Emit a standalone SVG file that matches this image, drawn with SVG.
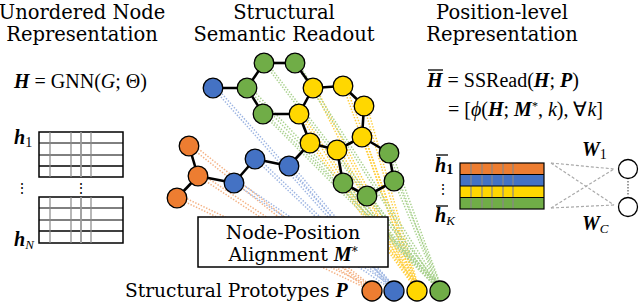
<svg xmlns="http://www.w3.org/2000/svg" width="640" height="303" viewBox="0 0 640 303">
<style>
text{font-family:"Liberation Serif",serif;fill:#000}
.t{font-size:19.5px;text-anchor:middle;font-family:"DejaVu Serif",serif}
.s{font-family:"DejaVu Serif",serif}
.m{font-size:20px}
.bi{font-weight:bold;font-style:italic;font-family:"Liberation Serif",serif}
.it{font-style:italic}
.e{stroke:#000;stroke-width:2.6}
.n{stroke:#000;stroke-width:1.3}
.o{fill:#ED7D31}.b{fill:#4472C4}.y{fill:#FFD700}.g{fill:#70AD47}
.dl{fill:none;stroke-width:1.5;stroke-dasharray:1.4 1.6}
.do{stroke:#F4B183}.db{stroke:#9DB5E2}.dy{stroke:#FFCF40}.dg{stroke:#A9D18E}
.grid{stroke:#000;stroke-width:1}
.gr{stroke:#999;stroke-width:1.8}
.cg{stroke:#888;stroke-width:1.2}
.dash{stroke:#aaa;stroke-width:1.2;stroke-dasharray:3 2;fill:none}
</style>

<g id="titles">
<text class="t" x="82" y="19">Unordered Node</text>
<text class="t" x="82" y="41">Representation</text>
<text class="t" x="284" y="19">Structural</text>
<text class="t" x="284" y="41">Semantic Readout</text>
<text class="t" x="502" y="19">Position-level</text>
<text class="t" x="502" y="41">Representation</text>
</g>

<g id="formula-left">
<text class="m" x="14" y="88"><tspan class="bi">H</tspan> = GNN(<tspan class="it">G</tspan>; Θ)</text>
</g>

<g id="formula-right">
<line x1="428" y1="70" x2="443" y2="70" stroke="#000" stroke-width="1.3"/>
<text class="m" x="427" y="87"><tspan class="bi">H</tspan> = SSRead(<tspan class="bi">H</tspan>; <tspan class="bi">P</tspan>)</text>
<text class="m" x="448" y="116" font-size="20.5">= [<tspan class="it">ϕ</tspan>(<tspan class="bi">H</tspan>; <tspan class="bi">M</tspan><tspan font-size="12" dy="-6">*</tspan><tspan dy="6">, </tspan><tspan class="it">k</tspan>), ∀<tspan class="it">k</tspan>]</text>
</g>

<g id="connectors">
<g class="dl do">
<line x1="189" y1="146" x2="372" y2="291"/><line x1="191" y1="143" x2="374" y2="288"/>
<line x1="198" y1="176" x2="372" y2="291"/><line x1="200" y1="173" x2="374" y2="288"/>
<line x1="177" y1="198" x2="372" y2="291"/><line x1="179" y1="195" x2="374" y2="288"/>
</g>
<g class="dl db">
<line x1="213" y1="88" x2="394" y2="291"/><line x1="216" y1="87" x2="396" y2="289"/>
<line x1="234" y1="183" x2="394" y2="291"/><line x1="236" y1="180" x2="396" y2="289"/>
<line x1="255" y1="159" x2="394" y2="291"/><line x1="257" y1="157" x2="396" y2="289"/>
<line x1="289" y1="166" x2="394" y2="291"/><line x1="291" y1="164" x2="396" y2="289"/>
</g>
<g class="dl dy">
<line x1="313" y1="88" x2="417" y2="291"/><line x1="316" y1="88" x2="419" y2="289"/>
<line x1="343" y1="86" x2="417" y2="291"/><line x1="346" y1="86" x2="419" y2="289"/>
<line x1="364" y1="106" x2="417" y2="291"/><line x1="367" y1="106" x2="419" y2="289"/>
<line x1="299" y1="114" x2="417" y2="291"/><line x1="302" y1="114" x2="419" y2="289"/>
<line x1="310" y1="143" x2="417" y2="291"/><line x1="313" y1="143" x2="419" y2="289"/>
<line x1="337" y1="150" x2="417" y2="291"/><line x1="340" y1="150" x2="419" y2="289"/>
<line x1="362" y1="137" x2="417" y2="291"/><line x1="365" y1="137" x2="419" y2="289"/>
</g>
<g class="dl dg">
<line x1="247" y1="88" x2="440" y2="291"/><line x1="250" y1="87" x2="442" y2="289"/>
<line x1="264" y1="63" x2="440" y2="291"/><line x1="267" y1="63" x2="442" y2="289"/>
<line x1="295" y1="63" x2="440" y2="291"/><line x1="298" y1="63" x2="442" y2="289"/>
<line x1="263" y1="114" x2="440" y2="291"/><line x1="266" y1="114" x2="442" y2="289"/>
<line x1="389" y1="153" x2="440" y2="291"/><line x1="392" y1="153" x2="442" y2="289"/>
<line x1="394" y1="181" x2="440" y2="291"/><line x1="397" y1="181" x2="442" y2="289"/>
<line x1="367" y1="196" x2="440" y2="291"/><line x1="370" y1="196" x2="442" y2="289"/>
<line x1="343" y1="183" x2="440" y2="291"/><line x1="346" y1="183" x2="442" y2="289"/>
</g>
<g class="e">
<line x1="213" y1="88" x2="247" y2="88"/>
<line x1="247" y1="88" x2="264" y2="63"/>
<line x1="247" y1="88" x2="263" y2="114"/>
<line x1="264" y1="63" x2="295" y2="63"/>
<line x1="295" y1="63" x2="313" y2="88"/>
<line x1="263" y1="114" x2="299" y2="114"/>
<line x1="313" y1="88" x2="299" y2="114"/>
<line x1="313" y1="88" x2="343" y2="86"/>
<line x1="343" y1="86" x2="364" y2="106"/>
<line x1="364" y1="106" x2="362" y2="137"/>
<line x1="299" y1="114" x2="310" y2="143"/>
<line x1="310" y1="143" x2="337" y2="150"/>
<line x1="337" y1="150" x2="362" y2="137"/>
<line x1="362" y1="137" x2="389" y2="153"/>
<line x1="389" y1="153" x2="394" y2="181"/>
<line x1="394" y1="181" x2="367" y2="196"/>
<line x1="367" y1="196" x2="343" y2="183"/>
<line x1="343" y1="183" x2="337" y2="150"/>
<line x1="310" y1="143" x2="289" y2="166"/>
<line x1="289" y1="166" x2="255" y2="159"/>
<line x1="255" y1="159" x2="234" y2="183"/>
<line x1="234" y1="183" x2="198" y2="176"/>
<line x1="198" y1="176" x2="189" y2="146"/>
<line x1="198" y1="176" x2="177" y2="198"/>
</g>
<g class="dash">
<line x1="551" y1="163" x2="614" y2="169"/>
<line x1="551" y1="163" x2="614" y2="205"/>
<line x1="551" y1="208" x2="614" y2="169"/>
<line x1="551" y1="208" x2="614" y2="205"/>
</g>
</g>

<g id="graph-nodes">
<circle id="o1" class="n o" cx="189" cy="146" r="9.8"/>
<circle id="o2" class="n o" cx="198" cy="176" r="9.8"/>
<circle id="o3" class="n o" cx="177" cy="198" r="9.8"/>
<circle id="b1" class="n b" cx="213" cy="88" r="9.8"/>
<circle id="b2" class="n b" cx="234" cy="183" r="9.8"/>
<circle id="b3" class="n b" cx="255" cy="159" r="9.8"/>
<circle id="b4" class="n b" cx="289" cy="166" r="9.8"/>
<circle id="g1" class="n g" cx="247" cy="88" r="9.8"/>
<circle id="g2" class="n g" cx="264" cy="63" r="9.8"/>
<circle id="g3" class="n g" cx="295" cy="63" r="9.8"/>
<circle id="g4" class="n g" cx="263" cy="114" r="9.8"/>
<circle id="y1" class="n y" cx="313" cy="88" r="9.8"/>
<circle id="y2" class="n y" cx="343" cy="86" r="9.8"/>
<circle id="y3" class="n y" cx="364" cy="106" r="9.8"/>
<circle id="y4" class="n y" cx="299" cy="114" r="9.8"/>
<circle id="y5" class="n y" cx="310" cy="143" r="9.8"/>
<circle id="y6" class="n y" cx="337" cy="150" r="9.8"/>
<circle id="y7" class="n y" cx="362" cy="137" r="9.8"/>
<circle id="g5" class="n g" cx="389" cy="153" r="9.8"/>
<circle id="g6" class="n g" cx="394" cy="181" r="9.8"/>
<circle id="g7" class="n g" cx="367" cy="196" r="9.8"/>
<circle id="g8" class="n g" cx="343" cy="183" r="9.8"/>
</g>

<g id="alignment-box">
<rect x="198" y="217" width="190" height="50" fill="#fff" stroke="#000" stroke-width="1.5"/>
<text class="s" x="293" y="239" font-size="19" text-anchor="middle">Node-Position</text>
<text class="s" x="293" y="261" font-size="19" text-anchor="middle">Alignment <tspan class="bi" font-size="20">M</tspan><tspan font-size="12" dy="-5">*</tspan></text>
</g>

<g id="prototypes">
<text class="s" x="125" y="297" font-size="18.6">Structural Prototypes <tspan class="bi" font-size="20">P</tspan></text>
<circle class="n o" cx="372" cy="291" r="10"/>
<circle class="n b" cx="394" cy="291" r="10"/>
<circle class="n y" cx="417" cy="291" r="10"/>
<circle class="n g" cx="440" cy="291" r="10"/>
</g>

<g id="matrix-H">
<g fill="#fff" stroke="#000">
<rect x="39" y="132" width="84" height="45" stroke-width="1.5"/>
<rect x="39" y="197" width="84" height="46" stroke-width="1.5"/>
</g>
<g class="grid">
<line x1="39" y1="143" x2="123" y2="143"/><line x1="39" y1="155" x2="123" y2="155"/><line x1="39" y1="166" x2="123" y2="166" stroke-width="1.6"/>
<line x1="39" y1="208" x2="123" y2="208"/><line x1="39" y1="220" x2="123" y2="220"/><line x1="39" y1="231" x2="123" y2="231" stroke-width="1.6"/>
</g>
<g class="cg">
<line x1="50" y1="132" x2="50" y2="177"/><line x1="71" y1="132" x2="71" y2="177"/><line x1="91" y1="132" x2="91" y2="177"/>
<line x1="50" y1="197" x2="50" y2="243"/><line x1="71" y1="197" x2="71" y2="243"/><line x1="91" y1="197" x2="91" y2="243"/>
</g>
<g class="gr">
<line x1="81" y1="132" x2="81" y2="177"/><line x1="81" y1="197" x2="81" y2="243"/>
</g>
<text x="14" y="144" font-size="20"><tspan class="bi">h</tspan><tspan font-size="14" dy="3">1</tspan></text>
<text x="14" y="246" font-size="20"><tspan class="bi">h</tspan><tspan font-size="13" class="it" dy="3">N</tspan></text>
<text x="22" y="193" font-size="14" text-anchor="middle">⋮</text>
<text x="81" y="193" font-size="14" text-anchor="middle">⋮</text>
</g>

<g id="matrix-Hbar">
<rect x="460" y="163" width="84" height="11.5" fill="#ED7D31"/>
<rect x="460" y="174.5" width="84" height="11.5" fill="#4472C4"/>
<rect x="460" y="186" width="84" height="11.5" fill="#FFD700"/>
<rect x="460" y="197.5" width="84" height="11.5" fill="#70AD47"/>
<g class="cg">
<line x1="471" y1="163" x2="471" y2="209"/><line x1="482" y1="163" x2="482" y2="209"/><line x1="492" y1="163" x2="492" y2="209"/><line x1="503" y1="163" x2="503" y2="209"/><line x1="513" y1="163" x2="513" y2="209"/>
</g>
<g stroke="#000" stroke-width="1.2" fill="none">
<rect x="460" y="163" width="84" height="46"/>
<line x1="460" y1="174.5" x2="544" y2="174.5"/><line x1="460" y1="186" x2="544" y2="186"/><line x1="460" y1="197.5" x2="544" y2="197.5"/>
</g>
<line x1="436" y1="155" x2="448" y2="155" stroke="#000" stroke-width="1.3"/>
<text x="435" y="172" font-size="20"><tspan class="bi">h</tspan><tspan font-size="14" font-weight="bold" dy="2">1</tspan></text>
<text x="443" y="194" font-size="14" text-anchor="middle">⋮</text>
<line x1="436" y1="206" x2="448" y2="206" stroke="#000" stroke-width="1.3"/>
<text x="435" y="222" font-size="20"><tspan class="bi">h</tspan><tspan font-size="13" class="it" dy="3">K</tspan></text>
</g>

<g id="classifier">
<circle cx="628" cy="169" r="9.5" fill="#fff" stroke="#000" stroke-width="1.3"/>
<circle cx="628" cy="207" r="9.5" fill="#fff" stroke="#000" stroke-width="1.3"/>
<line x1="628" y1="181" x2="628" y2="196" stroke="#666" stroke-width="1.3" stroke-dasharray="1.5 1.5"/>
<text x="582" y="156" font-size="20"><tspan class="bi">W</tspan><tspan font-size="14" dy="3">1</tspan></text>
<text x="582" y="230" font-size="20"><tspan class="bi">W</tspan><tspan font-size="13" class="it" dy="3">C</tspan></text>
</g>
</svg>
